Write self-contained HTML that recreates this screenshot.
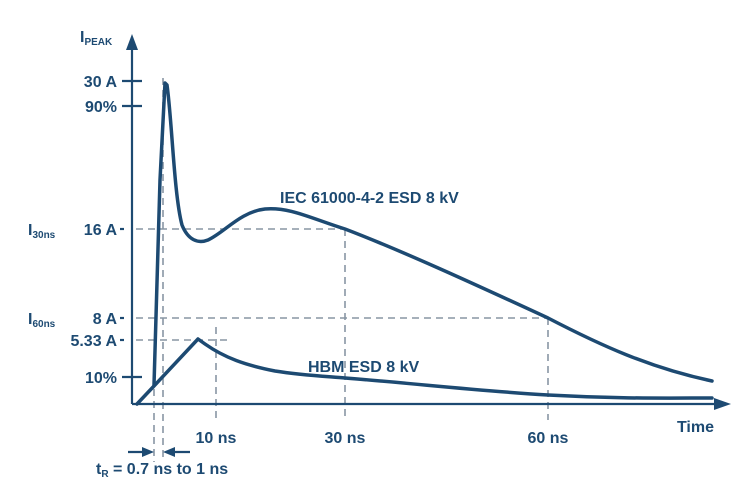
<!DOCTYPE html>
<html><head><style>
body{margin:0;background:#fff;}
text{font-family:"Liberation Sans",sans-serif;font-weight:bold;fill:#1d4a72;}
</style></head><body>
<svg width="743" height="499" viewBox="0 0 743 499" xmlns="http://www.w3.org/2000/svg">
<g stroke="#8896a4" stroke-width="1.6" stroke-dasharray="7,5" fill="none">
<line x1="136" y1="229" x2="345" y2="229"/>
<line x1="136" y1="318" x2="548" y2="318"/>
<line x1="136" y1="340" x2="232" y2="340"/>
<line x1="154" y1="377" x2="154" y2="462"/>
<line x1="163" y1="78" x2="163" y2="462"/>
<line x1="216" y1="327" x2="216" y2="420"/>
<line x1="345" y1="229" x2="345" y2="420"/>
<line x1="548" y1="318" x2="548" y2="420"/>
</g>
<g stroke="#1d4a72" stroke-width="2.2" fill="none">
<line x1="132" y1="48" x2="132" y2="404"/>
<line x1="132" y1="404" x2="718" y2="404"/>
<line x1="122" y1="81" x2="142" y2="81"/>
<line x1="122" y1="106" x2="142" y2="106"/>
<line x1="122" y1="377" x2="142" y2="377"/>
<line x1="120" y1="229" x2="124" y2="229"/>
<line x1="120" y1="318" x2="124" y2="318"/>
<line x1="120" y1="340" x2="124" y2="340"/>
<line x1="128" y1="452" x2="148" y2="452"/>
<line x1="170" y1="452" x2="190" y2="452"/>
</g>
<polygon points="132,34 126,50 138,50" fill="#1d4a72"/>
<polygon points="731,404 714,398 714,410" fill="#1d4a72"/>
<polygon points="154,452 142,447 142,457" fill="#1d4a72"/>
<polygon points="163,452 175,447 175,457" fill="#1d4a72"/>
<g stroke="#1d4a72" stroke-width="3.5" fill="none" stroke-linejoin="round" stroke-linecap="round">
<path d="M154,385 L160,180 L165,83 L167,85 C172,120 174,195 182,225 C188,240 198,244 208,240 C225,232 240,212 265,209 C290,207 310,218 345,229 C400,250 470,282 548,318 C600,345 650,368 712,381"/>
<path d="M137,404 L154,386 L198,339 L205,344 C225,358 245,365 275,371 C300,375 320,376 345,378 C420,384 480,391 548,395 C620,399 670,398 712,398"/>
</g>
<g font-size="16">
<text x="80" y="42">I<tspan font-size="10" dy="3">PEAK</tspan></text>
<text x="117" y="87" text-anchor="end">30 A</text>
<text x="117" y="112" text-anchor="end">90%</text>
<text x="117" y="235" text-anchor="end">16 A</text>
<text x="117" y="324" text-anchor="end">8 A</text>
<text x="117" y="346" text-anchor="end">5.33 A</text>
<text x="117" y="383" text-anchor="end">10%</text>
<text x="28" y="235">I<tspan font-size="10" dy="3">30ns</tspan></text>
<text x="28" y="324">I<tspan font-size="10" dy="3">60ns</tspan></text>
<text x="216" y="443" text-anchor="middle">10 ns</text>
<text x="345" y="443" text-anchor="middle">30 ns</text>
<text x="548" y="443" text-anchor="middle">60 ns</text>
<text x="714" y="432" text-anchor="end">Time</text>
<text x="96" y="474">t<tspan font-size="10" dy="3">R</tspan><tspan dy="-3"> = 0.7 ns to 1 ns</tspan></text>
<text x="280" y="203">IEC 61000-4-2 ESD 8 kV</text>
<text x="308" y="372">HBM ESD 8 kV</text>
</g>
</svg>
</body></html>
